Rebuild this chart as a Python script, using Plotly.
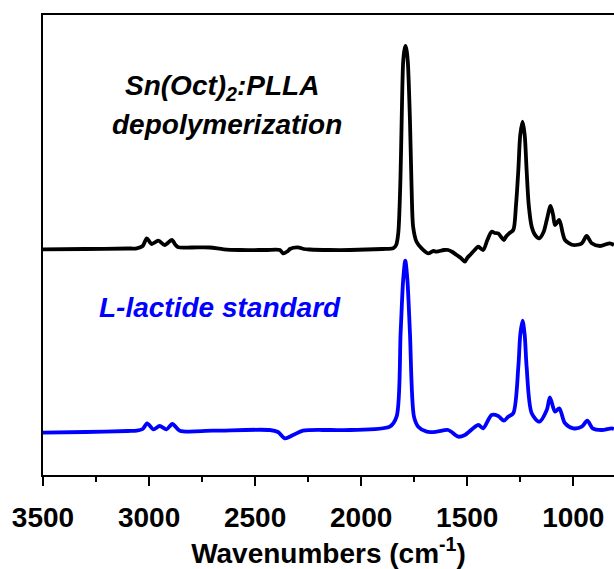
import plotly.graph_objects as go

# FTIR spectra, wavenumber (cm-1) vs. absorbance (arbitrary units, stacked)
depoly_wn = [3500, 3300, 3100, 3058, 3030, 3011, 2997, 2987, 2956, 2926, 2893, 2875,
             2862, 2800, 2714, 2648, 2572, 2450, 2383, 2369, 2345, 2336, 2299, 2270,
             2242, 2150, 2053, 1900, 1849, 1835, 1825, 1815, 1809, 1802, 1796, 1791,
             1786, 1780, 1770, 1762, 1755, 1739, 1715, 1684, 1660, 1644, 1610, 1590,
             1570, 1550, 1530, 1511, 1500, 1487, 1465, 1448, 1425, 1405, 1385, 1370,
             1354, 1340, 1327, 1315, 1302, 1283, 1270, 1259, 1250, 1239, 1229, 1220,
             1210, 1196, 1180, 1160, 1140, 1125, 1107, 1095, 1086, 1066, 1050, 1039,
             1000, 960, 937, 913, 874, 827, 808]
depoly_abs = [2.257, 2.26, 2.265, 2.267, 2.29, 2.367, 2.33, 2.31, 2.343, 2.30, 2.35, 2.30,
              2.277, 2.275, 2.275, 2.257, 2.25, 2.25, 2.25, 2.217, 2.24, 2.26, 2.277, 2.26,
              2.255, 2.25, 2.25, 2.26, 2.267, 2.30, 2.42, 2.95, 3.55, 4.13, 4.25, 4.29,
              4.25, 4.13, 3.55, 2.85, 2.483, 2.333, 2.267, 2.217, 2.24, 2.233, 2.25, 2.25,
              2.23, 2.20, 2.17, 2.133, 2.17, 2.20, 2.25, 2.283, 2.25, 2.35, 2.433, 2.42,
              2.417, 2.38, 2.35, 2.39, 2.417, 2.45, 2.70, 3.05, 3.40, 3.533, 3.40, 3.05,
              2.70, 2.483, 2.40, 2.367, 2.43, 2.55, 2.69, 2.60, 2.50, 2.55, 2.42, 2.35,
              2.30, 2.317, 2.39, 2.317, 2.29, 2.317, 2.30]

lactide_wn = [3500, 3300, 3100, 3058, 3030, 3009, 2980, 2950, 2918, 2890, 2855, 2700,
              2431, 2392, 2360, 2321, 2274, 2150, 2053, 1865, 1833, 1814, 1802, 1792,
              1782, 1770, 1751, 1731, 1691, 1644, 1590, 1542, 1511, 1448, 1425, 1385,
              1354, 1327, 1307, 1283, 1259, 1250, 1239, 1229, 1220, 1196, 1160, 1125,
              1110, 1086, 1066, 1039, 1000, 960, 934, 909, 866, 819, 808]
lactide_abs = [0.423, 0.43, 0.44, 0.443, 0.46, 0.517, 0.457, 0.49, 0.457, 0.51, 0.443, 0.443,
               0.45, 0.43, 0.367, 0.40, 0.443, 0.45, 0.45, 0.483, 0.583, 1.42, 1.95, 2.143,
               1.95, 1.42, 0.583, 0.483, 0.433, 0.433, 0.45, 0.383, 0.40, 0.50, 0.467, 0.60,
               0.59, 0.543, 0.583, 0.617, 1.083, 1.40, 1.543, 1.40, 1.083, 0.617, 0.533, 0.65,
               0.777, 0.633, 0.667, 0.517, 0.467, 0.483, 0.543, 0.467, 0.45, 0.467, 0.46]

x_range = [3500, 808]
x_ticks = [3500, 3000, 2500, 2000, 1500, 1000]

FONT = "Arial, Liberation Sans, sans-serif"

fig = go.Figure()
fig.add_trace(go.Scatter(x=depoly_wn, y=depoly_abs, mode="lines",
                         line=dict(color="black", width=3.8, shape="spline", smoothing=0.8),
                         showlegend=False))
fig.add_trace(go.Scatter(x=lactide_wn, y=lactide_abs, mode="lines",
                         line=dict(color="#0000ff", width=3.8, shape="spline", smoothing=0.8),
                         showlegend=False))

fig.add_annotation(x=3124, y=3.88, xref="x", yref="y", xanchor="left", yanchor="middle",
                   text="<b><i>Sn(Oct)<sub>2</sub>:PLLA</i></b>", showarrow=False,
                   font=dict(family=FONT, size=28, color="black"))
fig.add_annotation(x=3185, y=3.51, xref="x", yref="y", xanchor="left", yanchor="middle",
                   text="<b><i>depolymerization</i></b>", showarrow=False,
                   font=dict(family=FONT, size=28, color="black"))
fig.add_annotation(x=3247, y=1.68, xref="x", yref="y", xanchor="left", yanchor="middle",
                   text="<b><i>L-lactide standard</i></b>", showarrow=False,
                   font=dict(family=FONT, size=28, color="#0000ff"))

fig.update_layout(
    width=614, height=569,
    margin=dict(l=43, r=0, t=15, b=94, autoexpand=False),
    paper_bgcolor="white", plot_bgcolor="white",
    font=dict(family=FONT, color="black"),
    xaxis=dict(
        range=x_range, tickvals=x_ticks, ticktext=[f"<b>{v}</b>" for v in x_ticks],
        automargin=False,
        showline=True, linecolor="black", linewidth=2, mirror=True,
        ticks="outside", ticklen=9, tickwidth=2, tickcolor="black",
        ticklabelstandoff=7,
        minor=dict(tickvals=[3250, 2750, 2250, 1750, 1250], ticks="outside",
                   ticklen=5, tickwidth=2, tickcolor="black"),
        showgrid=False, zeroline=False,
        tickfont=dict(family=FONT, size=28, color="black"),
        title=dict(text="<b>Wavenumbers (cm<sup>-1</sup>)</b>",
                   font=dict(family=FONT, size=28, color="black"), standoff=55),
    ),
    yaxis=dict(
        range=[0, 4.6], showline=True, linecolor="black", linewidth=2, mirror=False,
        automargin=False,
        showticklabels=False, ticks="", showgrid=False, zeroline=False,
    ),
)

fig.write_html("out.html")
